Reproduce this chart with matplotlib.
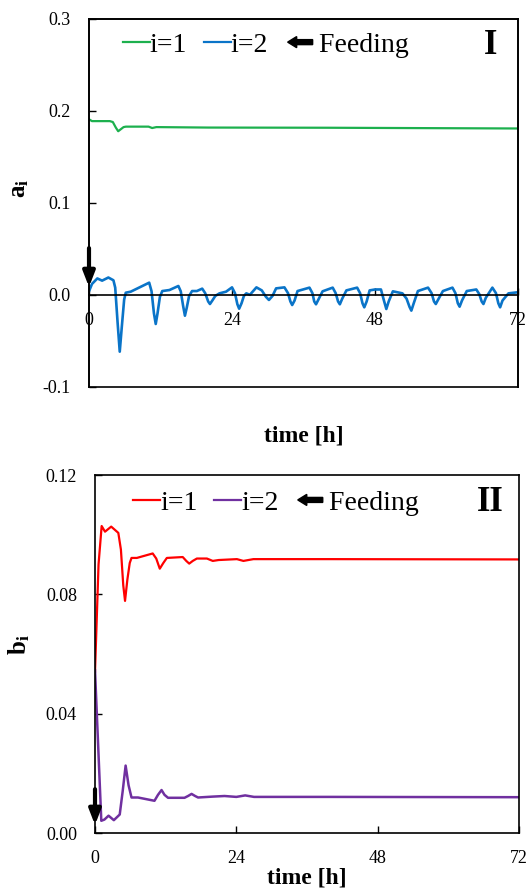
import matplotlib
matplotlib.use("Agg")
import matplotlib.pyplot as plt
import matplotlib.patches as mpatches
from matplotlib.lines import Line2D
from matplotlib.legend_handler import HandlerBase

plt.rcParams['font.family'] = ['Liberation Serif', 'DejaVu Serif']
plt.rcParams['mathtext.fontset'] = 'custom'
plt.rcParams['mathtext.rm'] = 'Liberation Serif'
plt.rcParams['mathtext.it'] = 'Liberation Serif:italic'
plt.rcParams['mathtext.bf'] = 'Liberation Serif:bold'

# ---------------- data ----------------
# Panel I : a_i
t_a1 = [0, 0.5, 3.5, 4.0, 4.5, 4.9, 5.3, 5.8, 6.2, 10.0, 10.6, 11.3, 20, 40, 72]
a1 = [0.191, 0.189, 0.189, 0.188, 0.182, 0.178, 0.180, 0.1825, 0.183, 0.183, 0.1815, 0.1825, 0.182,
      0.1818, 0.181]

t_a2 = [0, 0.5, 1.4, 2.2, 3.25, 4.1, 4.4, 4.8, 5.16, 5.5, 5.9, 6.17, 7.0, 10.1, 10.5, 10.9, 11.2,
        11.5, 11.9, 12.3, 13.5, 15.0, 15.4, 15.8, 16.1, 16.4, 16.8, 17.3, 18.1, 19.0, 19.5, 20.0,
        20.3, 20.7, 21.2, 21.9, 23.0, 24.0, 24.5, 24.9, 25.2, 25.6, 26.0, 26.4, 27.0, 28.1, 29.0,
        29.7, 30.2, 30.8, 31.4, 32.8, 33.4, 33.8, 34.1, 34.5, 35.0, 37.0, 37.5, 37.8, 38.1, 38.5,
        39.2, 40.9, 41.4, 41.8, 42.1, 42.5, 43.2, 45.0, 45.5, 45.9, 46.2, 46.6, 47.1, 48.0, 49.0,
        49.5, 49.9, 50.3, 51.0, 52.6, 53.3, 53.8, 54.1, 54.5, 55.2, 56.9, 57.5, 57.9, 58.2, 58.6,
        59.4, 61.0, 61.5, 61.9, 62.2, 62.6, 63.4, 65.0, 65.5, 65.9, 66.2, 66.6, 67.7, 68.3, 68.7,
        69.0, 69.4, 70.4, 72.0]
a2 = [0.004, 0.012, 0.018, 0.0156, 0.019, 0.016, 0.008, -0.03, -0.0616, -0.035, -0.005, 0.0025,
      0.0036, 0.0134, 0.004, -0.02, -0.0315, -0.02, -0.002, 0.0043, 0.0054, 0.0098, 0.004, -0.012,
      -0.0225, -0.014, -0.001, 0.0043, 0.0043, 0.0069, 0.002, -0.007, -0.0098, -0.006, -0.001,
      0.0018, 0.0036, 0.0083, 0.002, -0.010, -0.0149, -0.009, -0.001, 0.0018, 0.0002, 0.0083,
      0.005, -0.002, -0.0054, -0.001, 0.0072, 0.0083, 0.002, -0.007, -0.0109, -0.006, 0.0043,
      0.008, 0.002, -0.007, -0.0101, -0.005, 0.004, 0.008, 0.002, -0.007, -0.0101, -0.004, 0.005,
      0.008, 0.002, -0.009, -0.0134, -0.007, 0.005, 0.006, 0.006, -0.006, -0.0152, -0.007, 0.004,
      0.0018, -0.004, -0.013, -0.017, -0.009, 0.0043, 0.008, 0.002, -0.007, -0.0098, -0.005,
      0.0043, 0.008, 0.002, -0.009, -0.0127, -0.006, 0.0043, 0.006, 0.001, -0.007, -0.0098,
      -0.003, 0.008, 0.002, -0.009, -0.0134, -0.006, 0.0018, 0.003]

# Panel II : b_i
t_b1 = [0, 0.6, 1.13, 1.7, 2.75, 3.96, 4.4, 4.8, 5.1, 5.5, 5.9, 6.2, 7.1, 9.8, 10.4, 11.0, 11.6,
        12.2, 14.9, 15.5, 16.0, 16.6, 17.3, 19.0, 20.0, 21.0, 24.1, 25.2, 26.9, 40, 72]
b1 = [0.054, 0.09, 0.1029, 0.101, 0.1027, 0.1006, 0.095, 0.083, 0.0778, 0.085, 0.0905, 0.0922,
      0.0922, 0.0937, 0.092, 0.0886, 0.0905, 0.0922, 0.0925, 0.0912, 0.0903, 0.0912, 0.092, 0.092,
      0.0912, 0.0915, 0.0918, 0.0912, 0.0918, 0.0918, 0.0917]

t_b2 = [0, 0.5, 1.07, 1.6, 2.3, 3.2, 4.2, 4.7, 5.2, 5.7, 6.2, 7.3, 10.1, 10.7, 11.3, 11.8, 12.4,
        15.2, 15.8, 16.4, 17.0, 17.5, 20.0, 22.0, 24.0, 25.5, 27.0, 40, 72]
b2 = [0.0545, 0.031, 0.0041, 0.0045, 0.0058, 0.0043, 0.0062, 0.014, 0.0226, 0.016, 0.0119,
      0.0119, 0.0108, 0.0128, 0.0144, 0.0128, 0.0118, 0.0118, 0.0124, 0.0131, 0.0124, 0.0119,
      0.0122, 0.0124, 0.0121, 0.0126, 0.0121, 0.0121, 0.012]

x_ticks = [0, 24, 48, 72]
a_ticks = [-0.1, 0.0, 0.1, 0.2, 0.3]
a_ticklabels = ['-0.1', '0.0', '0.1', '0.2', '0.3']
b_ticks = [0.0, 0.04, 0.08, 0.12]
b_ticklabels = ['0.00', '0.04', '0.08', '0.12']
feed_a = (0.051, 0.0087)
feed_b = (0.0147, 0.0027)

c_green = '#1DB04E'
c_blue = '#0A74C8'
c_red = '#FF0000'
c_purple = '#7030A0'


class HandlerLeftArrow(HandlerBase):
    def create_artists(self, legend, orig_handle, xdescent, ydescent, width, height, fontsize, trans):
        yc = -ydescent + height / 2.0
        x0 = -xdescent
        arr = mpatches.FancyArrow(x0 + 20.0, yc, -18, 0, width=3.6, head_width=8.0,
                                  head_length=6.5, length_includes_head=True,
                                  color='k', transform=trans)
        return [arr]


fig = plt.figure(figsize=(5.28, 8.90), dpi=100)


def setup(ax, yticks, ylabels, ylim, xlab_y):
    ax.set_xlim(0, 72)
    ax.set_ylim(*ylim)
    ax.set_xticks(x_ticks)
    ax.set_xticklabels([str(v) for v in x_ticks])
    ax.set_yticks(yticks)
    ax.set_yticklabels(ylabels)
    ax.tick_params(direction='in', length=5, width=1.0, labelsize=13, pad=12)
    ax.tick_params(axis='y', pad=13)
    for s in ax.spines.values():
        s.set_linewidth(1.2)
    ax.set_xlabel('time [h]', fontsize=17, fontweight='bold')
    ax.xaxis.set_label_coords(0.5, xlab_y)


def add_legend(ax, c1, c2, anchor):
    handles = [Line2D([], [], color=c1, lw=1.6), Line2D([], [], color=c2, lw=1.6),
               mpatches.Patch(color='k')]
    ax.legend(handles, ['i=1', 'i=2', ' Feeding'], ncol=3, loc='center left',
              bbox_to_anchor=anchor, frameon=False, fontsize=20, handlelength=0.97,
              handletextpad=0.0, columnspacing=0.6, borderpad=0, borderaxespad=0,
              handler_map={mpatches.Patch: HandlerLeftArrow()})


def feed_arrow(ax, ys):
    ax.annotate('', xy=(0, ys[1]), xytext=(0, ys[0]),
                arrowprops=dict(arrowstyle='-|>,head_length=0.9,head_width=0.35', color='k',
                                lw=3.0, shrinkA=0, shrinkB=0), annotation_clip=False)


# ----- Panel I -----
ax1 = fig.add_axes([89 / 528, 1 - 387 / 890, 429 / 528, 368 / 890])
ax1.plot(t_a1, a1, color=c_green, lw=1.6)
ax1.plot(t_a2, a2, color=c_blue, lw=1.9)
setup(ax1, a_ticks, a_ticklabels, (-0.1, 0.3), -0.105)
ax1.spines['bottom'].set_position(('data', 0))
ax1.set_ylabel(r'$\mathbf{a_i}$', fontsize=18)
ax1.yaxis.set_label_coords(-0.135, 0.54)
frame = ax1.twiny()
frame.set_xticks([])
for s in frame.spines.values():
    s.set_linewidth(1.2)
feed_arrow(ax1, feed_a)
add_legend(ax1, c_green, c_blue, (0.079, 0.929))
ax1.text(0.935, 0.929, 'I', transform=ax1.transAxes, fontsize=25, fontweight='bold',
         ha='center', va='center')

# ----- Panel II -----
ax2 = fig.add_axes([95 / 528, 1 - 833 / 890, 424 / 528, 358 / 890])
ax2.plot(t_b1, b1, color=c_red, lw=1.6)
ax2.plot(t_b2, b2, color=c_purple, lw=1.8)
setup(ax2, b_ticks, b_ticklabels, (0, 0.12), -0.095)
ax2.set_ylabel(r'$\mathbf{b_i}$', fontsize=18)
ax2.yaxis.set_label_coords(-0.149, 0.525)
feed_arrow(ax2, feed_b)
add_legend(ax2, c_red, c_purple, (0.0896, 0.922))
ax2.text(0.932, 0.922, 'II', transform=ax2.transAxes, fontsize=25, fontweight='bold',
         ha='center', va='center')

fig.savefig('out.png', dpi=100)
